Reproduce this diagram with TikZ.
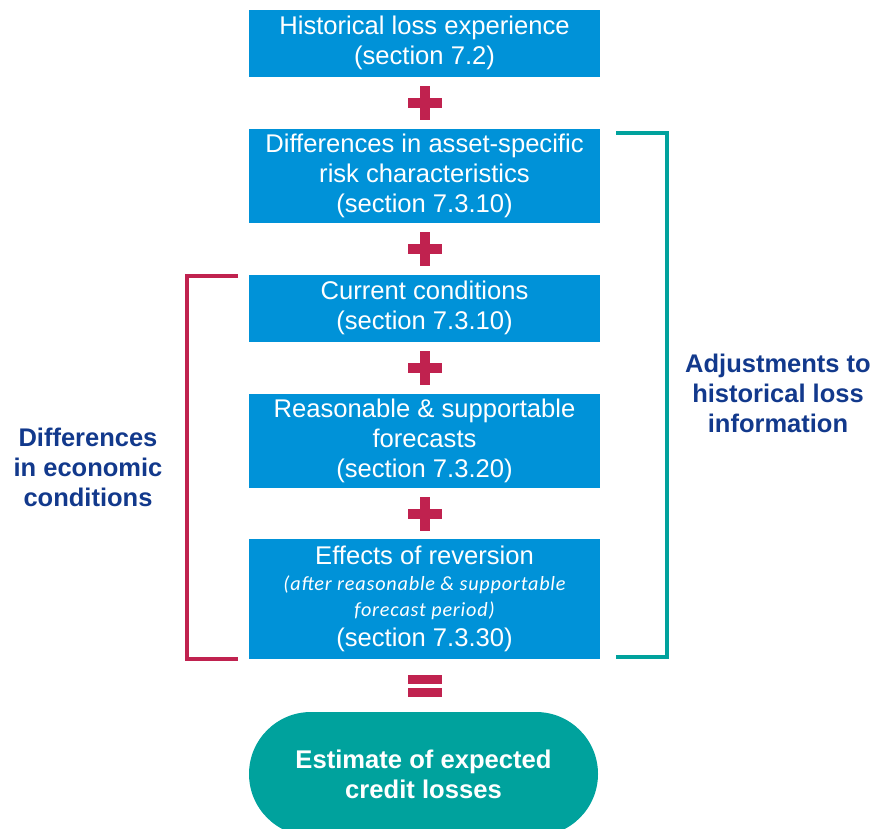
\documentclass[tikz,border=0pt]{standalone}
\usepackage{fontspec}
\setmainfont{Liberation Sans}
\newfontfamily\noteit{Carlito}[LetterSpace=4]
\definecolor{boxblue}{HTML}{0092D8}
\definecolor{plusred}{HTML}{C0224F}
\definecolor{ovalteal}{HTML}{00A29D}
\definecolor{labelblue}{HTML}{12398C}
\tikzset{
    stepbox/.style={fill=boxblue, text=white, minimum width=351pt, align=center,
        font=\fontsize{25.6}{30}\selectfont, inner sep=0pt},
    sidelabel/.style={text=labelblue, align=center, font=\fontsize{25.5}{30}\selectfont\bfseries},
    bracket/.style={line width=4pt}
}
\begin{document}
\begin{tikzpicture}[x=1pt, y=-1pt]
        \useasboundingbox (0,0) rectangle (875,829);

        \node[stepbox, minimum height=66.7pt] (hist)   at (424.5,43.3)  {Historical loss experience\\(section 7.2)};
        \node[stepbox, minimum height=93.4pt] (asset)  at (424.5,176)   {Differences in asset-specific\\risk characteristics\\(section 7.3.10)};
        \node[stepbox, minimum height=66.7pt] (curr)   at (424.5,308.3) {Current conditions\\(section 7.3.10)};
        \node[stepbox, minimum height=93.4pt] (fcast)  at (424.5,441)   {Reasonable \& supportable\\forecasts\\(section 7.3.20)};
        \node[stepbox, minimum height=120pt]  (revert) at (424.5,599.3)
            {Effects of reversion\\[-4pt]
             {\noteit\itshape\fontsize{20.2}{25}\selectfont (after reasonable \& supportable}\\[-4pt]
             {\noteit\itshape\fontsize{20.2}{25}\selectfont forecast period)}\\
             (section 7.3.30)};

        \node[fill=ovalteal, text=white, minimum width=349pt, minimum height=124pt,
              rounded corners=62pt, align=center, inner sep=0pt,
              font=\fontsize{25.6}{30}\selectfont\bfseries] (ecl) at (423.5,774) {Estimate of expected\\credit losses};

        % plus signs between the boxes
        \foreach \y in {103,249,368,513.5}
        {
            \fill[plusred] (408,\y-5) rectangle (442,\y+5);
            \fill[plusred] (420,\y-17) rectangle (430,\y+17);
        }
        % equals sign
        \fill[plusred] (408,675) rectangle (442,684);
        \fill[plusred] (408,688) rectangle (442,697);

        \coordinate (tealtop) at (616,133);
        \coordinate (tealbot) at (616,657);
        \draw[bracket, ovalteal] (tealtop) -- (667,133) -- (667,657) -- (tealbot);
        \coordinate (redtop) at (238,275.5);
        \coordinate (redbot) at (238,659);
        \draw[bracket, plusred] (redtop) -- (187,275.5) -- (187,659) -- (redbot);

        \node[sidelabel] (adjust) at (778,393) {Adjustments to\\historical loss\\information};
        \node[sidelabel] (econ)   at (88,467)  {Differences\\in economic\\conditions};
    \end{tikzpicture}
\end{document}
